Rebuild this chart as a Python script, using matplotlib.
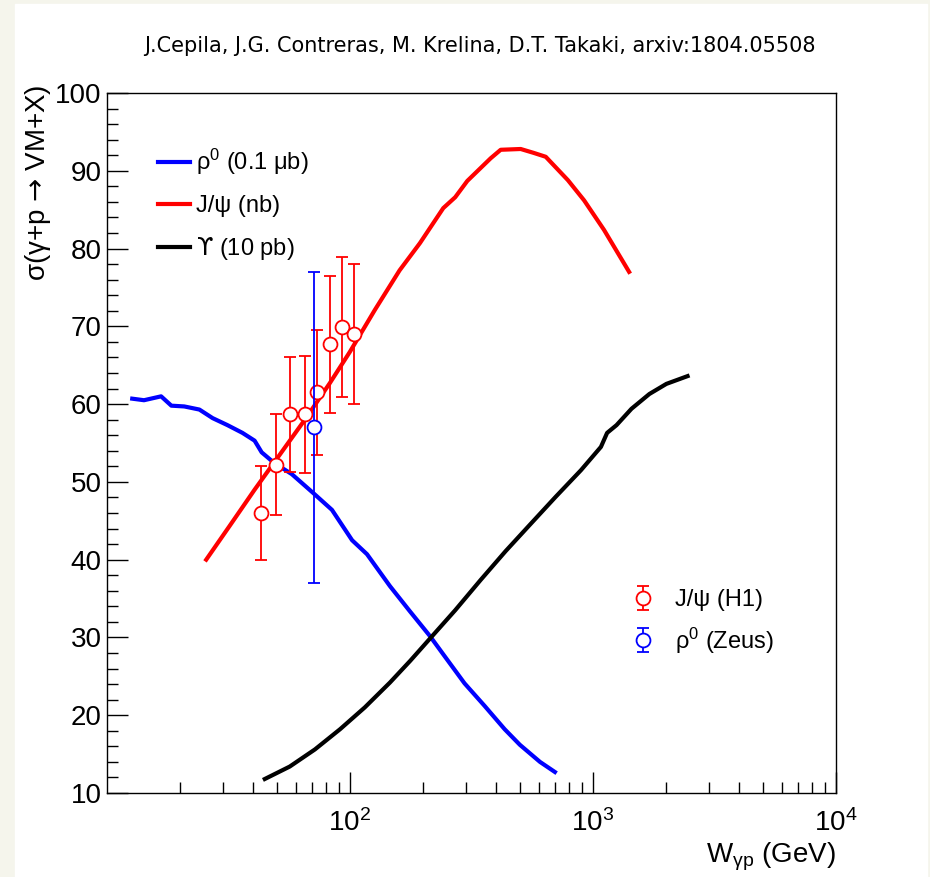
import matplotlib
matplotlib.use("Agg")
import numpy as np
import matplotlib.pyplot as plt
from matplotlib.patches import Rectangle
from matplotlib.ticker import FixedLocator, NullFormatter

plt.rcParams['font.family'] = ['Liberation Sans', 'DejaVu Sans']
plt.rcParams['mathtext.fontset'] = 'custom'
plt.rcParams['mathtext.rm'] = 'Liberation Sans'
plt.rcParams['mathtext.sf'] = 'DejaVu Sans'
plt.rcParams['mathtext.default'] = 'regular'

# rho0 model (0.1 mub)
w_rho = [12.7, 14.2, 16.7, 18.4, 20.8, 24.0, 27.2, 31.3, 36.1, 40.5, 43.3, 48.9,
         57.6, 70.4, 84.3, 102, 117.5, 146, 176, 213, 245, 296, 358, 433, 500, 605, 697]
s_rho = [60.7, 60.5, 61.0, 59.8, 59.7, 59.3, 58.2, 57.3, 56.3, 55.3, 53.8, 52.4,
         51.0, 48.6, 46.4, 42.5, 40.7, 36.6, 33.4, 30.2, 27.6, 24.1, 21.2, 18.2, 16.2, 14.0, 12.7]

# J/psi model (nb)
w_jpsi = [25.6, 31.9, 40.5, 51.4, 65.2, 82.6, 99.8, 126.5, 160, 194, 242, 271, 304,
          379, 417, 504, 570, 639, 788, 919, 1110, 1408]
s_jpsi = [40.0, 44.3, 49.0, 53.5, 58.0, 62.7, 66.7, 72.1, 77.2, 80.7, 85.2, 86.6, 88.7,
          91.6, 92.7, 92.8, 92.3, 91.8, 88.8, 86.2, 82.4, 77.0]

# Upsilon model (10 pb)
w_ups = [44.6, 56.5, 71.7, 91, 115, 146, 177, 214, 271, 345, 437, 554, 703, 892,
         1078, 1143, 1250, 1440, 1706, 2004, 2450]
s_ups = [11.8, 13.4, 15.6, 18.2, 21.0, 24.2, 27.0, 29.9, 33.5, 37.4, 41.1, 44.6, 48.1, 51.5,
         54.5, 56.3, 57.3, 59.4, 61.3, 62.6, 63.6]

# H1 J/psi data
w_h1 = [43.2, 49.6, 56.9, 65.2, 73.3, 82.7, 92.4, 103.6]
s_h1 = [46.0, 52.2, 58.7, 58.7, 61.5, 67.7, 69.9, 69.0]
e_h1 = [6.0, 6.5, 7.4, 7.5, 8.0, 8.8, 9.0, 9.0]

# Zeus rho0 data
w_zeus = [71.3]
s_zeus = [57.0]
e_zeus = [20.0]

fig = plt.figure(figsize=(9.3, 8.77), dpi=100)
fig.patch.set_facecolor('#f5f5ec')
fig.patches.append(Rectangle((15/930, 0), (927-15)/930, (877-4)/877,
                             transform=fig.transFigure, color='white', zorder=-10))
ax = fig.add_axes([107/930, 1-793/877, (836-107)/930, (793-93)/877])

l1, = ax.plot(w_rho, s_rho, color='#0000ff', lw=3, label='ρ$^{0}$ (0.1 μb)')
l2, = ax.plot(w_jpsi, s_jpsi, color='#ff0000', lw=3, label='J/ψ (nb)')
l3, = ax.plot(w_ups, s_ups, color='black', lw=3, label='$\\mathsf{ϒ}$ (10 pb)')

e1 = ax.errorbar(w_h1, s_h1, yerr=e_h1, fmt='o', color='#ff0000', mfc='white', mec='#ff0000',
                 ms=10, mew=1.3, elinewidth=1.3, capsize=4, capthick=1.3, zorder=5,
                 label='J/ψ (H1)')
e2 = ax.errorbar(w_zeus, s_zeus, yerr=e_zeus, fmt='o', color='#0000ff', mfc='white', mec='#0000ff',
                 ms=10, mew=1.3, elinewidth=1.3, capsize=4, capthick=1.3, zorder=6,
                 label='ρ$^{0}$ (Zeus)')

ax.set_xscale('log')
ax.set_xlim(10, 1e4)
ax.set_ylim(10, 100)
ax.set_xticks([1e2, 1e3, 1e4])
ax.set_xticklabels(['10$^{2}$', '10$^{3}$', '10$^{4}$'])
ax.xaxis.set_minor_locator(FixedLocator([m * 10**d for d in (1, 2, 3) for m in range(2, 10)]))
ax.xaxis.set_minor_formatter(NullFormatter())
ax.set_yticks(np.arange(10, 101, 10))
ax.set_yticks(np.arange(10, 101, 2), minor=True)
ax.tick_params(which='both', direction='in', top=False, right=False, labelsize=20, width=1)
ax.tick_params(which='major', length=15)
ax.tick_params(which='minor', length=8)
ax.tick_params(axis='x', pad=12)
ax.tick_params(axis='y', pad=4)
for s in ax.spines.values():
    s.set_linewidth(1)

ax.set_ylabel('σ(γ+p $\\mathsf{→}$ VM+X)', fontsize=20, loc='top')
ax.yaxis.set_label_coords(-0.074, 1.012)
ax.set_xlabel('W$_{γp}$ (GeV)', fontsize=20, loc='right', labelpad=2)

leg1 = ax.legend(handles=[l1, l2, l3], loc='upper left', bbox_to_anchor=(137/930, 1-126/877),
                 bbox_transform=fig.transFigure, frameon=False, fontsize=17,
                 handlelength=1.35, handletextpad=0.25, labelspacing=0.75)
ax.add_artist(leg1)
ax.legend(handles=[e1, e2], loc='upper left', bbox_to_anchor=(604/930, 1-568/877),
          bbox_transform=fig.transFigure, frameon=False, fontsize=17,
          handlelength=1.5, handletextpad=0.6, labelspacing=0.6)

fig.text(480/930, 1-46/877, 'J.Cepila, J.G. Contreras, M. Krelina, D.T. Takaki, arxiv:1804.05508',
         ha='center', va='center', fontsize=15, family='DejaVu Sans')

fig.savefig('out.png', dpi=100, facecolor=fig.get_facecolor())
